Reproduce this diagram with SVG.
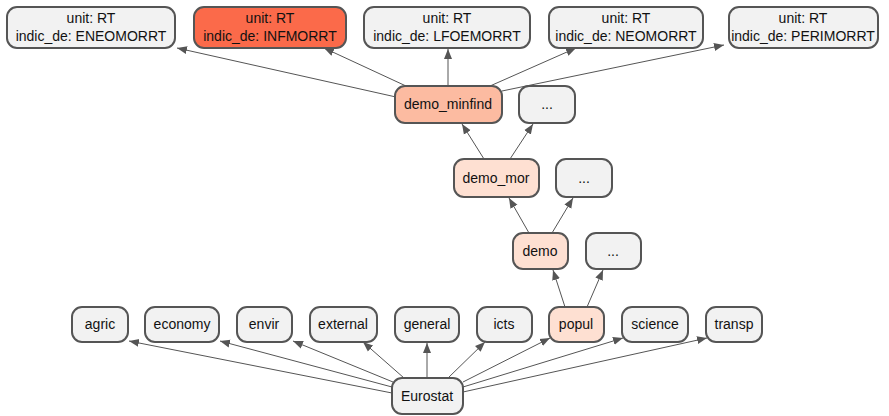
<svg xmlns="http://www.w3.org/2000/svg" width="889" height="416" viewBox="0 0 889 416">
<style>
.n rect{stroke:#555;stroke-width:2;fill:#f2f2f2}
.n text{font-family:"Liberation Sans",Arial,sans-serif;font-size:14px;fill:#111;text-anchor:middle}
.e line{stroke:#555;stroke-width:1;marker-end:url(#a)}
</style>
<defs>
<marker id="a" viewBox="0 0 10 10" refX="10" refY="5" markerWidth="10" markerHeight="10" markerUnits="userSpaceOnUse" orient="auto">
<path d="M0,1 L10,5 L0,9 z" fill="#555"/>
</marker>
</defs>
<rect width="889" height="416" fill="#fff"/>
<g id="edges" class="e">
<line x1="392" y1="393" x2="129" y2="341"/>
<line x1="392" y1="387" x2="220" y2="341"/>
<line x1="393" y1="382" x2="293" y2="341"/>
<line x1="404" y1="378" x2="363" y2="342"/>
<line x1="427" y1="378" x2="427" y2="343"/>
<line x1="448" y1="378" x2="485" y2="342"/>
<line x1="463" y1="382" x2="550" y2="338"/>
<line x1="463" y1="387" x2="623" y2="338"/>
<line x1="463" y1="392" x2="707" y2="338"/>
<line x1="565" y1="307" x2="553" y2="270"/>
<line x1="587" y1="307" x2="603" y2="270"/>
<line x1="529" y1="233" x2="509" y2="198"/>
<line x1="552" y1="233" x2="573" y2="198"/>
<line x1="484" y1="159" x2="462" y2="124"/>
<line x1="510" y1="159" x2="533" y2="124"/>
<line x1="396" y1="97" x2="177" y2="48"/>
<line x1="406" y1="86" x2="324" y2="48"/>
<line x1="448" y1="86" x2="448" y2="49"/>
<line x1="490" y1="86" x2="576" y2="48"/>
<line x1="502" y1="91" x2="724" y2="45"/>
</g>
<g id="n_eneo" class="n"><rect x="7" y="7" width="168" height="41" rx="10"/><text x="91" y="23">unit: RT</text><text x="91" y="41">indic_de: ENEOMORRT</text></g>
<g id="n_inf" class="n"><rect x="194" y="7" width="152" height="41" rx="10" style="fill:#fb6a4a"/><text x="270" y="23">unit: RT</text><text x="270" y="41">indic_de: INFMORRT</text></g>
<g id="n_lfoe" class="n"><rect x="364" y="7" width="166" height="41" rx="10"/><text x="447" y="23">unit: RT</text><text x="447" y="41">indic_de: LFOEMORRT</text></g>
<g id="n_neo" class="n"><rect x="549" y="7" width="154" height="41" rx="10"/><text x="626" y="23">unit: RT</text><text x="626" y="41">indic_de: NEOMORRT</text></g>
<g id="n_peri" class="n"><rect x="729" y="7" width="149" height="41" rx="10"/><text x="803" y="23">unit: RT</text><text x="803" y="41">indic_de: PERIMORRT</text></g>
<g id="n_minfind" class="n"><rect x="395" y="86" width="107" height="37" rx="10" style="fill:#fcbba1"/><text x="448" y="109">demo_minfind</text></g>
<g id="n_dots1" class="n"><rect x="519" y="86" width="56" height="37" rx="10"/><text x="547" y="109">...</text></g>
<g id="n_mor" class="n"><rect x="454" y="159" width="85" height="38" rx="10" style="fill:#fee0d2"/><text x="496" y="183">demo_mor</text></g>
<g id="n_dots2" class="n"><rect x="556" y="159" width="56" height="38" rx="10"/><text x="584" y="183">...</text></g>
<g id="n_demo" class="n"><rect x="513" y="233" width="55" height="36" rx="10" style="fill:#fee0d2"/><text x="540" y="256">demo</text></g>
<g id="n_dots3" class="n"><rect x="586" y="233" width="55" height="36" rx="10"/><text x="613" y="256">...</text></g>
<g id="n_agric" class="n"><rect x="72" y="307" width="56" height="35" rx="10"/><text x="100" y="329">agric</text></g>
<g id="n_economy" class="n"><rect x="145" y="307" width="74" height="35" rx="10"/><text x="182" y="329">economy</text></g>
<g id="n_envir" class="n"><rect x="237" y="307" width="55" height="35" rx="10"/><text x="264" y="329">envir</text></g>
<g id="n_external" class="n"><rect x="310" y="307" width="67" height="35" rx="10"/><text x="343" y="329">external</text></g>
<g id="n_general" class="n"><rect x="395" y="307" width="64" height="35" rx="10"/><text x="427" y="329">general</text></g>
<g id="n_icts" class="n"><rect x="477" y="307" width="55" height="35" rx="10"/><text x="504" y="329">icts</text></g>
<g id="n_popul" class="n"><rect x="549" y="307" width="55" height="35" rx="10" style="fill:#fee0d2"/><text x="576" y="329">popul</text></g>
<g id="n_science" class="n"><rect x="622" y="307" width="66" height="35" rx="10"/><text x="655" y="329">science</text></g>
<g id="n_transp" class="n"><rect x="706" y="307" width="56" height="35" rx="10"/><text x="734" y="329">transp</text></g>
<g id="n_eurostat" class="n"><rect x="392" y="378" width="71" height="36" rx="10"/><text x="427" y="401">Eurostat</text></g>
</svg>
